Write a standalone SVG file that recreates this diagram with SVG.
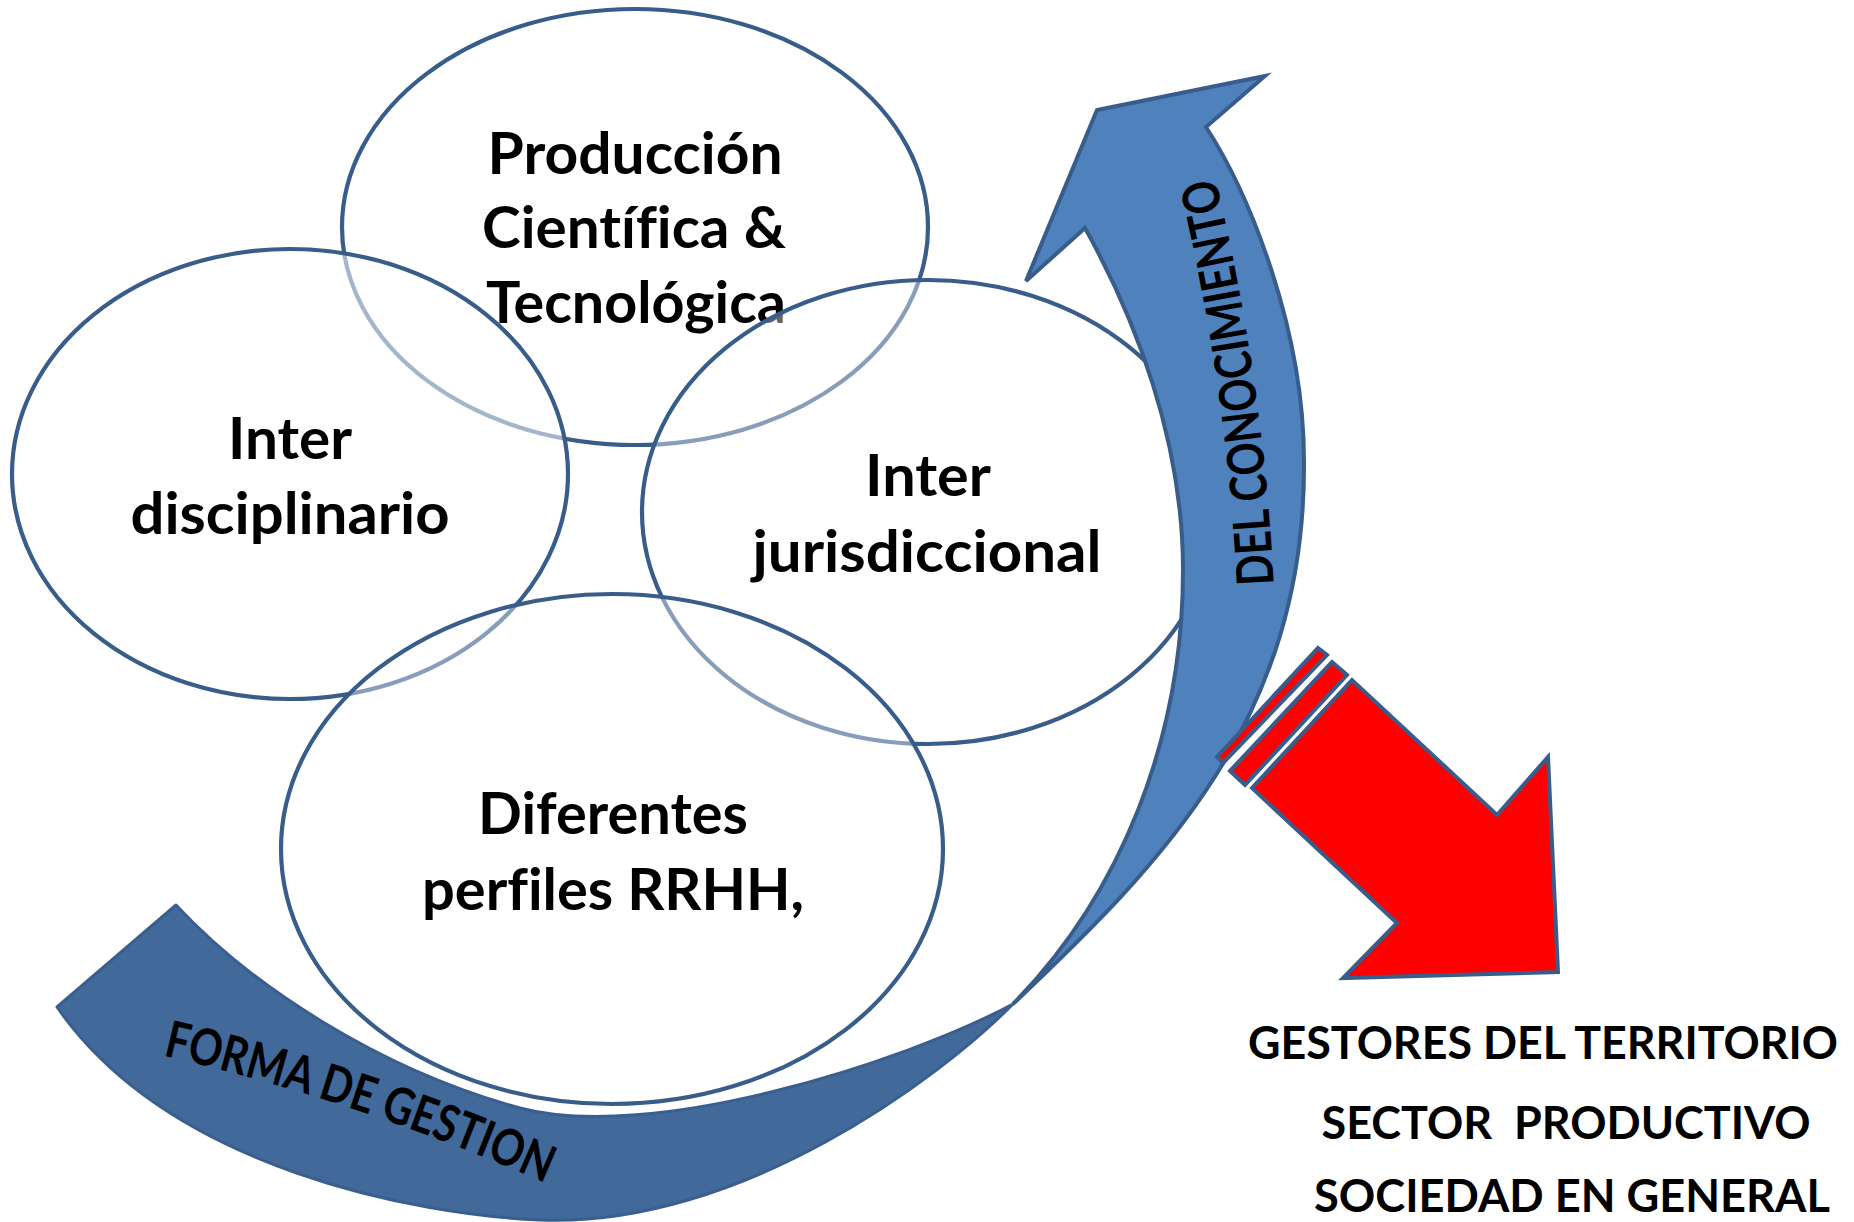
<svg xmlns="http://www.w3.org/2000/svg" width="1854" height="1222" viewBox="0 0 1854 1222">
<style>
.ell{fill:#ffffff;fill-opacity:0.45;stroke:#385D8A;stroke-width:4.2}
.t{font-family:Lato,"Open Sans","Liberation Sans",sans-serif;font-weight:bold;fill:#000000;text-anchor:middle;font-variant-ligatures:none;font-feature-settings:"liga" 0,"clig" 0}
.big{font-size:57px}
.mid{font-size:46px}
.arr{font-size:51px}
.light{fill:#4F81BD;stroke:#385D8A;stroke-width:4;stroke-linejoin:miter}
.dark{fill:#41699A;stroke:#3A5F8E;stroke-width:3;stroke-linejoin:round}
.red{fill:#FF0000;stroke:#385D8A;stroke-width:4;stroke-linejoin:miter}
</style>
<defs>
<path id="pathConoc" d="M 1274 590 Q 1264 380 1214 172"/>
<path id="pathGestion" d="M 156 1054 Q 358 1100 552 1186"/>
</defs>
<rect width="1854" height="1222" fill="#ffffff"/>

<g id="node-produccion">
<ellipse class="ell" cx="635" cy="227" rx="293" ry="218"/>
<text class="t big" x="635" y="174" textLength="295" lengthAdjust="spacingAndGlyphs">Producción</text>
<text class="t big" x="634" y="248" textLength="304" lengthAdjust="spacingAndGlyphs">Científica &amp;</text>
<text class="t big" x="636" y="323" textLength="300" lengthAdjust="spacingAndGlyphs">Tecnológica</text>
</g>

<g id="node-interdisciplinario">
<ellipse class="ell" cx="290" cy="474" rx="278" ry="225" style="fill-opacity:0.55"/>
<text class="t big" x="290" y="459" textLength="124" lengthAdjust="spacingAndGlyphs">Inter</text>
<text class="t big" x="290" y="534" textLength="319" lengthAdjust="spacingAndGlyphs">disciplinario</text>
</g>

<g id="node-interjurisdiccional">
<ellipse class="ell" cx="928" cy="512" rx="286" ry="232" style="fill-opacity:0.4"/>
<text class="t big" x="928" y="496" textLength="126" lengthAdjust="spacingAndGlyphs">Inter</text>
<text class="t big" x="927" y="572" textLength="349" lengthAdjust="spacingAndGlyphs">jurisdiccional</text>
</g>

<g id="node-perfiles">
<ellipse class="ell" cx="612" cy="849" rx="331" ry="255" style="fill-opacity:0.4"/>
<text class="t big" x="613" y="834" textLength="270" lengthAdjust="spacingAndGlyphs">Diferentes</text>
<text class="t big" x="613" y="910" textLength="382" lengthAdjust="spacingAndGlyphs">perfiles RRHH,</text>
</g>

<g id="connectors">
<g id="arrow-conocimiento">
<path class="light" d="M 1013 1004 C 1120 895 1183 740 1183 570 C 1183 440 1135 318 1085 228 L 1026 281 L 1097 110 L 1265 76 L 1206 127 C 1250 195 1304 330 1304 461 C 1306 720 1160 865 1013 1004 Z"/>
<text class="t arr"><textPath href="#pathConoc" startOffset="50%" textLength="412" lengthAdjust="spacingAndGlyphs">DEL CONOCIMIENTO</textPath></text>
</g>
<g id="band-gestion">
<path class="dark" d="M 176 905 C 250 985 380 1070 520 1108 C 650 1143 903 1063 1013 1004 C 940 1078 740 1228 540 1220 C 420 1215 170 1170 57 1007 Z"/>
<text class="t arr"><textPath href="#pathGestion" startOffset="50%" textLength="404" lengthAdjust="spacingAndGlyphs">FORMA DE GESTION</textPath></text>
</g>
<g id="arrow-salida">
<polygon class="red" points="1318,648 1327,655 1223,763 1217,757"/>
<polygon class="red" points="1332,662 1347,675 1245,785 1230,771"/>
<polygon class="red" points="1252,788 1352,680 1497,815 1548,757 1558,972 1343,978 1397,923"/>
</g>
</g>

<g id="node-destinatarios">
<text class="t mid" x="1543" y="1059" textLength="590" lengthAdjust="spacingAndGlyphs">GESTORES DEL TERRITORIO</text>
<text class="t mid" x="1566" y="1139" textLength="489" lengthAdjust="spacingAndGlyphs" xml:space="preserve">SECTOR  PRODUCTIVO</text>
<text class="t mid" x="1572" y="1212" textLength="516" lengthAdjust="spacingAndGlyphs">SOCIEDAD EN GENERAL</text>
</g>
</svg>
